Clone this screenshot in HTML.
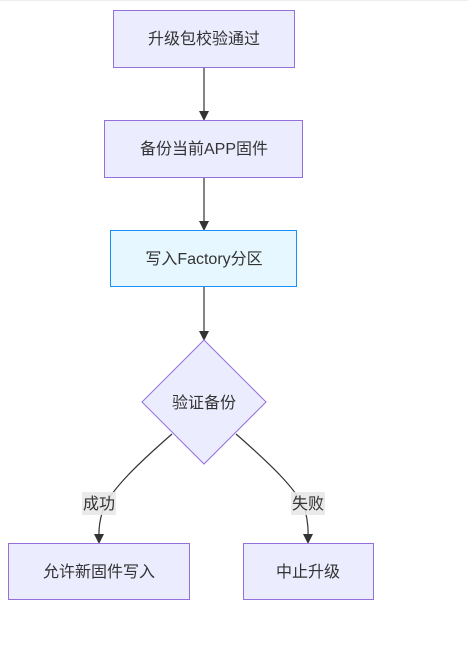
<!DOCTYPE html>
<html><head><meta charset="utf-8"><style>
body{margin:0;background:#fff;width:468px;height:653px;overflow:hidden}
text{font-family:"Liberation Sans","Noto Sans CJK SC",sans-serif;font-size:16px;fill:#333}
</style></head><body>
<svg width="468" height="653" xmlns="http://www.w3.org/2000/svg">
<defs><marker id="a" markerWidth="10" markerHeight="10" refX="8" refY="5" orient="auto" markerUnits="userSpaceOnUse"><path d="M0,0 L10,5 L0,10 z" fill="#333"/></marker></defs>
<line x1="0" y1="0.5" x2="468" y2="0.5" stroke="#eee"/>
<g stroke="#333" stroke-width="1.2" fill="none">
<line x1="204" y1="67" x2="204" y2="119" marker-end="url(#a)"/>
<line x1="204" y1="177" x2="204" y2="229" marker-end="url(#a)"/>
<line x1="204" y1="287" x2="204" y2="339" marker-end="url(#a)"/>
<path d="M172,434 C140,462 110,490 103,510 C98,525 99,535 99,542" marker-end="url(#a)"/>
<path d="M236,434 C268,462 298,490 305,510 C309,525 308,535 308,542" marker-end="url(#a)"/>
</g>
<g stroke="#9370DB" stroke-width="1" fill="#ECECFF">
<rect x="113.5" y="10.5" width="181" height="57"/>
<rect x="104.5" y="120.5" width="198" height="57"/>
<polygon points="204,340 266,402 204,464 142,402"/>
<rect x="8.5" y="543.5" width="181" height="56"/>
<rect x="243.5" y="543.5" width="130" height="56"/>
</g>
<rect x="110.5" y="230.5" width="186" height="56" fill="#E6F7FF" stroke="#1890FF"/>
<rect x="82" y="492" width="34" height="23" fill="#e8e8e8" opacity="0.9"/>
<rect x="291" y="492" width="34" height="23" fill="#e8e8e8" opacity="0.9"/>
<g text-anchor="middle">
<text x="204" y="44">升级包校验通过</text>
<text x="204" y="154">备份当前APP固件</text>
<text x="204" y="264">写入Factory分区</text>
<text x="204" y="408">验证备份</text>
<text x="99" y="509">成功</text>
<text x="308" y="509">失败</text>
<text x="99" y="577">允许新固件写入</text>
<text x="308" y="577">中止升级</text>
</g>
</svg>
</body></html>
